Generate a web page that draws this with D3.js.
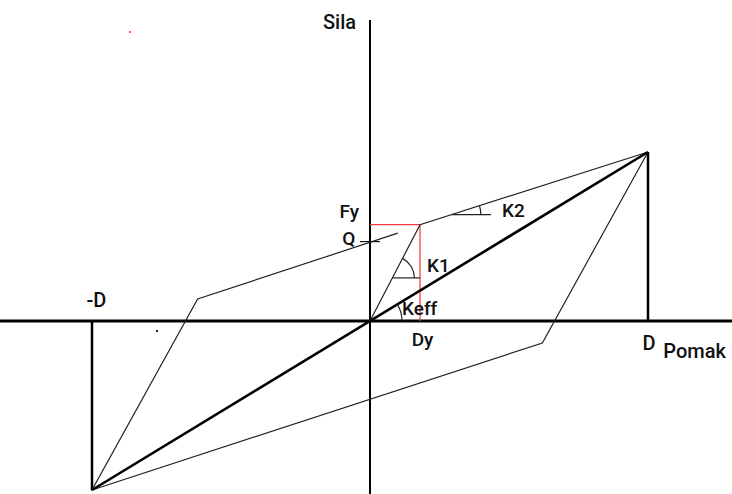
<!DOCTYPE html>
<html>
<head>
<meta charset="utf-8">
<script src="https://cdn.jsdelivr.net/npm/d3@7"></script>
<style>
  body { margin: 0; background: #fff; }
  text { font-family: Roboto, "DejaVu Sans", sans-serif; font-weight: 500; fill: #111; }
</style>
</head>
<body>
<div id="chart"></div>
<script>
// Values in chart units: displacement D = 100, max force = 100
const D = 100;
const Fmax = 100;
const Dy = 18;     // yield displacement
const Fy = 57;     // yield force
const Q = 47;      // characteristic strength

// initial loading: origin -> yield -> peak
const initialPath = [[0, 0], [Dy, Fy], [D, Fmax]];
// hysteresis loop
const loopPath = [[D, Fmax], [62, -13], [-D, -Fmax], [-62, 13], [10, 52]];
// effective stiffness line
const keffPath = [[-D, -Fmax], [D, Fmax]];

const labels = [
  {text: 'Sila', x: -5, y: 173, anchor: 'end', size: 20},
  {text: 'Fy', x: -11, y: 61, anchor: 'start', size: 19},
  {text: 'Q', x: -10, y: 45, anchor: 'start', size: 19},
  {text: 'K1', x: 20.5, y: 29, anchor: 'start', size: 19},
  {text: 'K2', x: 47.5, y: 61.5, anchor: 'start', size: 19},
  {text: 'Keff', x: 11.5, y: 3.5, anchor: 'start', size: 19},
  {text: 'Dy', x: 15, y: -14.5, anchor: 'start', size: 19},
  {text: '-D', x: -102, y: 8, anchor: 'start', size: 20},
  {text: 'D', x: 98, y: -17, anchor: 'start', size: 20},
  {text: 'Pomak', x: 105.5, y: -22, anchor: 'start', size: 20}
];

let full_width = 732;
let full_height = 494;

let x = d3.scaleLinear()
  .domain([-D, D])
  .range([92, 648]);
let y = d3.scaleLinear()
  .domain([-Fmax, Fmax])
  .range([490, 152]);

const svg = d3.select('#chart')
  .append('svg')
    .attr('width', full_width)
    .attr('height', full_height);

const line = d3.line()
  .x(d => x(d[0]))
  .y(d => y(d[1]));

// Axes
svg.append('line')
  .attr('x1', 0).attr('x2', full_width)
  .attr('y1', y(0)).attr('y2', y(0))
  .attr('stroke', '#000').attr('stroke-width', 3);
svg.append('line')
  .attr('x1', x(0)).attr('x2', x(0))
  .attr('y1', 20).attr('y2', full_height)
  .attr('stroke', '#000').attr('stroke-width', 2);

// Vertical lines at +D and -D
[D, -D].forEach(v => {
  svg.append('line')
    .attr('x1', x(v)).attr('x2', x(v))
    .attr('y1', y(0)).attr('y2', y(v))
    .attr('stroke', '#000').attr('stroke-width', 2.5);
});

// Red yield guides
svg.append('path')
  .attr('d', line([[0, Fy], [Dy, Fy], [Dy, 0]]))
  .attr('fill', 'none')
  .attr('stroke', '#f0393c')
  .attr('stroke-width', 1.2);

// Loop and loading branches
svg.append('path')
  .attr('d', line(loopPath))
  .attr('fill', 'none')
  .attr('stroke', '#222')
  .attr('stroke-width', 1.2);
svg.append('path')
  .attr('d', line(initialPath))
  .attr('fill', 'none')
  .attr('stroke', '#222')
  .attr('stroke-width', 1.2);

// Keff line
svg.append('path')
  .attr('d', line(keffPath))
  .attr('fill', 'none')
  .attr('stroke', '#000')
  .attr('stroke-width', 2.6);

// Q tick
svg.append('line')
  .attr('x1', x(0) - 10).attr('x2', x(0) + 10)
  .attr('y1', y(Q)).attr('y2', y(Q))
  .attr('stroke', '#111').attr('stroke-width', 1.2);

// Angle marks: vertex, horizontal leg length, radius, line direction
const angle = (a, b) => Math.atan2(y(a[1]) - y(b[1]), x(b[0]) - x(a[0]));
function angleMark(px, py, leg, r, theta) {
  svg.append('line')
    .attr('x1', px).attr('x2', px + leg)
    .attr('y1', py).attr('y2', py)
    .attr('stroke', '#222').attr('stroke-width', 1.2);
  const arc = d3.arc()
    .innerRadius(r).outerRadius(r)
    .startAngle(Math.PI / 2 - theta)
    .endAngle(Math.PI / 2);
  svg.append('path')
    .attr('d', arc())
    .attr('transform', 'translate(' + px + ',' + py + ')')
    .attr('fill', 'none')
    .attr('stroke', '#222')
    .attr('stroke-width', 1.2);
}

// K1 mark on the initial branch
const k1Force = 25.5;
const k1x = x(Dy * k1Force / Fy);
angleMark(k1x, y(k1Force), x(Dy) - k1x, 22, angle([0, 0], [Dy, Fy]));
// K2 mark on the upper branch
const k2Force = 63;
const k2x = x(Dy + (k2Force - Fy) * (D - Dy) / (Fmax - Fy));
angleMark(k2x, y(k2Force), 39, 29, angle([Dy, Fy], [D, Fmax]));
// Keff mark at origin
angleMark(x(0), y(0), 0, 32, angle([0, 0], [D, Fmax]));

// Labels
svg.selectAll('text.lbl')
  .data(labels)
  .enter()
  .append('text')
    .attr('class', 'lbl')
    .attr('x', d => x(d.x))
    .attr('y', d => y(d.y))
    .attr('text-anchor', d => d.anchor)
    .attr('font-size', d => d.size + 'px')
    .text(d => d.text);

// small specks from the scan
svg.append('rect').attr('x', 129).attr('y', 31).attr('width', 2).attr('height', 2).attr('fill', '#f55');
svg.append('rect').attr('x', 156).attr('y', 330).attr('width', 2).attr('height', 2).attr('fill', '#222');
</script>
</body>
</html>
